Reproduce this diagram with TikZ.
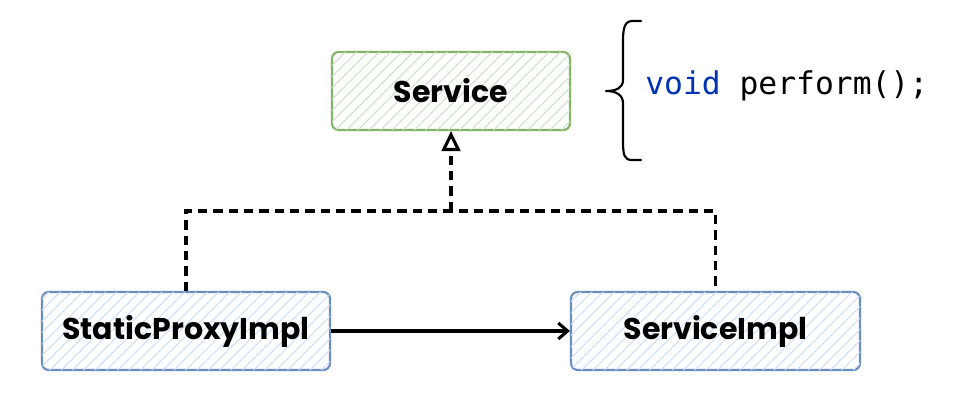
\documentclass[tikz,border=0pt]{standalone}
\usepackage{fontspec}
\setmainfont{Poppins}
\newfontfamily\codefont{DejaVu Sans Mono}
\usetikzlibrary{patterns.meta,arrows.meta}
\definecolor{gborder}{HTML}{82B366}
\definecolor{ghatch}{HTML}{CDE3C9}
\definecolor{bborder}{HTML}{6C8EBF}
\definecolor{bhatch}{HTML}{CFE0F7}
\definecolor{kwblue}{HTML}{0033B3}
\tikzset{
  box/.style={draw, line width=1.6pt, rounded corners=5pt, minimum height=58.5pt,
    font=\fontsize{22.5}{26}\selectfont\bfseries, text=black, inner sep=0pt},
  greenbox/.style={box, draw=gborder, fill=white,
    postaction={pattern={Lines[angle=45,distance=6pt,line width=0.8pt]}, pattern color=ghatch}},
  bluebox/.style={box, draw=bborder, fill=white,
    postaction={pattern={Lines[angle=45,distance=6pt,line width=0.8pt]}, pattern color=bhatch}},
  dashline/.style={line width=2.3pt, dash pattern=on 7pt off 4.5pt},
  solidline/.style={line width=2.3pt},
}
\begin{document}
\begin{tikzpicture}[x=0.75pt,y=-0.75pt]
\useasboundingbox (0,0) rectangle (960,420);
\node[greenbox, minimum width=178.5pt] (svc) at (451,91) {Service};
\node[bluebox, minimum width=216pt] (spi) at (186,331) {StaticProxyImpl};
\node[bluebox, minimum width=216.75pt] (si) at (715.5,331) {ServiceImpl};
\coordinate (j) at (451,211);
\draw[dashline] (spi.north) |- (j) -| (si.north);
\draw[dashline, -{Triangle[open,length=15pt,width=14pt,line width=2.3pt]}] (j) -- (svc.south);
\draw[solidline, -{Straight Barb[length=7pt,width=12pt,line width=2.3pt]}] (spi.east) -- (si.west);
\draw[line width=1.6pt, line cap=round, line join=round] (641,21) -- (632,21)
  .. controls (622,21) and (623,35) .. (623,50) -- (623,80)
  .. controls (623,88) and (616,91) .. (606,91)
  .. controls (616,91) and (623,95) .. (623,103) -- (623,140)
  .. controls (623,155) and (624,160) .. (632,160) -- (641,160);
\node[anchor=west, inner sep=0pt, font=\codefont\fontsize{23.5}{26}\selectfont] (code) at (645,86)
  {\textcolor{kwblue}{void} perform();};
\end{tikzpicture}
\end{document}
